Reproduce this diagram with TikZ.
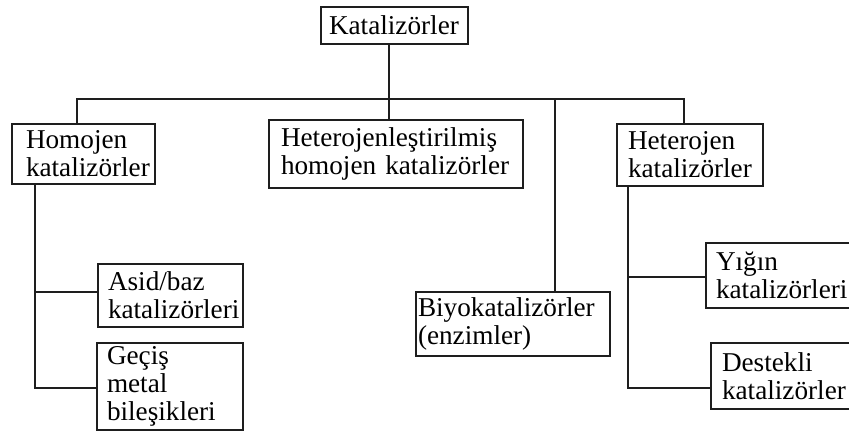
\documentclass[tikz,border=0pt]{standalone}
\usepackage{fontspec}
\setmainfont{Liberation Serif}
\usepackage{xcolor}
\usepackage{tikz}
\usetikzlibrary{calc}
\definecolor{ink}{HTML}{1E1E1E}
\definecolor{paper}{HTML}{FFFFFF}
\newcommand\kutufont{\fontsize{13.6}{14}\selectfont\hyphenpenalty10000\relax}
\tikzset{
  line/.style={draw=ink, line width=1.1pt},
  kutu/.style={draw=ink, line width=1pt, anchor=north west, align=left,
    inner ysep=0pt, text=black, font=\kutufont}
}

\begin{document}
\begin{tikzpicture}[x=0.5pt, y=-0.5pt]
  \fill[paper] (0,0) rectangle (849,430);
  \useasboundingbox (0,0) rectangle (849,430);

  % boxes
  \node[kutu, inner xsep=4pt, text width=65.5pt, minimum height=18.5pt] (kat) at (320,6) {Katalizörler};
  \node[kutu, inner xsep=7pt, text width=57.5pt, minimum height=30pt] (hom) at (11,123) {Homojen\\katalizörler};
  \node[kutu, inner xsep=6pt, text width=115pt, minimum height=34pt] (hetl) at (268,119) {Heterojenleştirilmiş\\homojen katalizörler};
  \node[kutu, inner xsep=5.5pt, text width=62pt, minimum height=31pt] (het) at (616,123) {Heterojen\\katalizörler};
  \node[kutu, inner xsep=1pt, text width=95pt, minimum height=32pt] (biyo) at (415,291) {Biyokatalizörler\\(enzimler)};
  \node[kutu, inner xsep=5pt, text width=62.5pt, minimum height=31.5pt] (asid) at (97,263) {Asid/baz\\katalizörleri};
  \node[kutu, inner xsep=5pt, text width=63pt, minimum height=43.5pt] (gecis) at (96,342) {Geçiş\\metal\\bileşikleri};
  \node[kutu, inner xsep=5pt, text width=70pt, minimum height=32.5pt] (yigin) at (705,242) {Yığın\\katalizörleri};
  \node[kutu, inner xsep=5.5pt, text width=66pt, minimum height=33pt] (dest) at (710,342) {Destekli\\katalizörler};

  % bus and trunks
  \coordinate (bL) at (77,99);
  \coordinate (bR) at (684,99);
  \coordinate (bB) at (555,99);
  \coordinate (tH) at (35,183);
  \coordinate (tE) at (628,185);
  \coordinate (tD) at (628,388);

  \draw[line] ([xshift=-2.7pt]kat.south) -- ([xshift=-2.7pt]kat.south |- hetl.north);
  \draw[line] (hom.north -| bL) -- (bL) -- (bR) -- (het.north -| bR);
  \draw[line] (bB) -- (bB |- biyo.north);

  \draw[line] (tH |- hom.south) |- ([yshift=-0.75pt]gecis.west);
  \draw[line] ([yshift=1.75pt]asid.west -| tH) -- ([yshift=1.75pt]asid.west);

  \draw[line] (tE |- het.south) -- (tD) -- (tD -| dest.west);
  \draw[line] ([yshift=-0.75pt]yigin.west -| tE) -- ([yshift=-0.75pt]yigin.west);
\end{tikzpicture}
\end{document}
